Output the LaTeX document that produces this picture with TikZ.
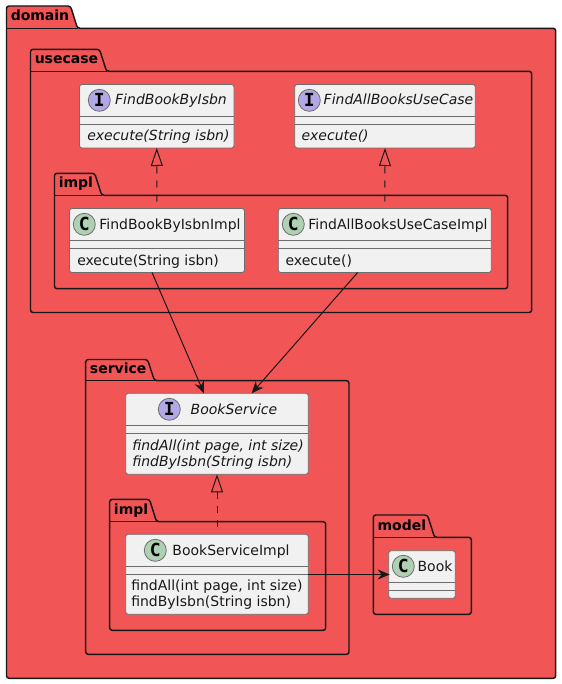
\documentclass[tikz,border=0pt]{standalone}
\usepackage{fontspec}
\setmainfont{DejaVu Sans}
\newfontfamily\glyphfont{DejaVu Sans Mono}
\usetikzlibrary{arrows.meta,calc}
\definecolor{pkgred}{HTML}{F25555}
\definecolor{classfill}{HTML}{F1F1F1}
\definecolor{inkline}{HTML}{181818}
\definecolor{softline}{HTML}{6E6E6E}
\definecolor{ifacespot}{HTML}{B4A7E5}
\definecolor{classspot}{HTML}{ADD1B2}
\newcommand{\umlpackage}[8]{% name, label, left, tab top, body top, tab right, right, bottom
  \pgfmathsetmacro{\tabfoot}{#6+7}
  \draw[pkgframe] (#3,#5) -- (#3,#4) -- (#6,#4) -- (\tabfoot,#5) -- (#7,#5) -- (#7,#8) -- (#3,#8) -- cycle;
  \draw[line width=1.1pt,inkline] (#3,#5) -- (\tabfoot,#5);
  \node[pkglabel] (#1) at (#3+4,#5-7.3) {#2};
}
\begin{document}
\begin{tikzpicture}[x=0.75pt,y=-0.75pt,every node/.style={font=\fontsize{10.5}{12}\selectfont,text=black!90},pkgframe/.style={draw=inkline,fill=pkgred,line width=1.1pt,rounded corners=1.9pt},pkglabel/.style={font=\fontsize{10.5}{12}\selectfont\bfseries,anchor=base west,inner sep=0,text=black},classbox/.style={draw=softline,line width=0.6pt,fill=classfill,rounded corners=1.9pt,anchor=north west,inner sep=0,outer sep=0},classsize/.style 2 args={minimum width=#1*0.75pt,minimum height=#2*0.75pt},divider/.style={draw=softline,line width=0.6pt},ifacemark/.style={circle,draw=softline,line width=0.6pt,fill=ifacespot,minimum size=16.5pt,inner sep=0,font=\fontsize{13.5}{14}\selectfont\glyphfont\bfseries,text=black},classmark/.style={ifacemark,fill=classspot},title/.style={anchor=base,inner sep=0},ifacetitle/.style={title,font=\fontsize{10.5}{12}\selectfont\itshape},member/.style={anchor=base west,inner sep=0},ifacemember/.style={member,font=\fontsize{10.5}{12}\selectfont\itshape},depends/.style={-{Stealth[length=9pt,width=7.5pt,inset=3pt]},draw=inkline,line width=0.75pt},realizes/.style={-{Triangle[open,length=13.5pt,width=9pt]},dash pattern=on 5.25pt off 5.25pt,dash phase=5.25pt,draw=inkline,line width=0.75pt}]
\useasboundingbox (0,0) rectangle (561,684);
\umlpackage{domain}{domain}{6.5}{6}{28.3}{70.5}{555.7}{678.3}
\umlpackage{usecase}{usecase}{30.5}{49.3}{71.3}{99.5}{531.7}{312.5}
\umlpackage{implusecase}{impl}{54.5}{173.3}{195.3}{94.7}{507.7}{288.7}
\umlpackage{service}{service}{85.7}{359.5}{380.7}{147.5}{349}{654.3}
\umlpackage{implservice}{impl}{109.7}{499.3}{521.7}{149.5}{325.7}{630.3}
\umlpackage{model}{model}{373.3}{515}{537.3}{427.5}{471.3}{614.3}
% classes
\node[classbox,classsize={154.5}{63.5}] (isbn) at (79.5,84.5) {};
\node[classbox,classsize={180.6}{63.5}] (allbooks) at (294.7,84.5) {};
\node[classbox,classsize={175}{64}] (isbnimpl) at (69.5,208.5) {};
\node[classbox,classsize={213}{64}] (allimpl) at (278.3,208.5) {};
\node[classbox,classsize={182.6}{81}] (bookservice) at (125.7,393.3) {};
\node[classbox,classsize={182.6}{80}] (serviceimpl) at (125.7,534.3) {};
\node[classbox,classsize={66.6}{47.6}] (book) at (388.7,550.7) {};
\foreach \cls in {isbn,allbooks,isbnimpl,allimpl,bookservice,serviceimpl,book}{
  \draw[divider] ($(\cls.north west)+(0,32)$) -- ($(\cls.north east)+(0,32)$);
  \draw[divider] ($(\cls.north west)+(0,40)$) -- ($(\cls.north east)+(0,40)$);
}
\node[ifacemark] (isbnmark) at (99.3,100.3) {I};
\node[ifacemark] (allbooksmark) at (309.3,100.3) {I};
\node[classmark] (isbnimplmark) at (84.3,224.3) {C};
\node[classmark] (allimplmark) at (293.3,224.3) {C};
\node[ifacemark] (bookservicemark) at (169.3,409.3) {I};
\node[classmark] (serviceimplmark) at (155.3,550.3) {C};
\node[classmark] (bookmark) at (403.3,566.3) {C};
\node[ifacetitle] (isbntitle) at (171,105) {FindBookByIsbn};
\node[ifacetitle] (allbookstitle) at (398.5,105) {FindAllBooksUseCase};
\node[title] (isbnimpltitle) at (170,229.5) {FindBookByIsbnImpl};
\node[title] (allimpltitle) at (398,229.5) {FindAllBooksUseCaseImpl};
\node[ifacetitle] (bookservicetitle) at (234,414) {BookService};
\node[title] (serviceimpltitle) at (231,555.5) {BookServiceImpl};
\node[title] (booktitle) at (435,571) {Book};
\node[ifacemember] (isbnexec) at (87,141) {execute(String isbn)};
\node[ifacemember] (allbooksexec) at (301.3,141) {execute()};
\node[member] (isbnimplexec) at (77,265) {execute(String isbn)};
\node[member] (allimplexec) at (285.3,265) {execute()};
\node[ifacemember] (bookservicefind) at (132,450.5) {findAll(int page, int size)};
\node[ifacemember] (bookserviceisbn) at (132,466.5) {findByIsbn(String isbn)};
\node[member] (serviceimplfind) at (131,590.5) {findAll(int page, int size)};
\node[member] (serviceimplisbn) at (131,606.5) {findByIsbn(String isbn)};
% connectors
\coordinate (isbnimplout) at ($(isbnimpl.south)+(-5,0)$);
\coordinate (allimplout) at (357.7,272.5);
\coordinate (bookservicein) at (204,393.3);
\coordinate (bookservicein2) at (251.7,393.3);
\coordinate (serviceimplout) at (308.3,574.5);
\coordinate (bookin) at (389.7,574.5);
\draw[realizes] (isbnimpl.north) -- (isbn.south);
\draw[realizes] (allimpl.north) -- (allbooks.south);
\draw[realizes] (serviceimpl.north) -- (bookservice.south);
\draw[depends] (isbnimplout) -- (bookservicein);
\draw[depends] (allimplout) -- (bookservicein2);
\draw[depends] (serviceimplout) -- (bookin);
\end{tikzpicture}
\end{document}
